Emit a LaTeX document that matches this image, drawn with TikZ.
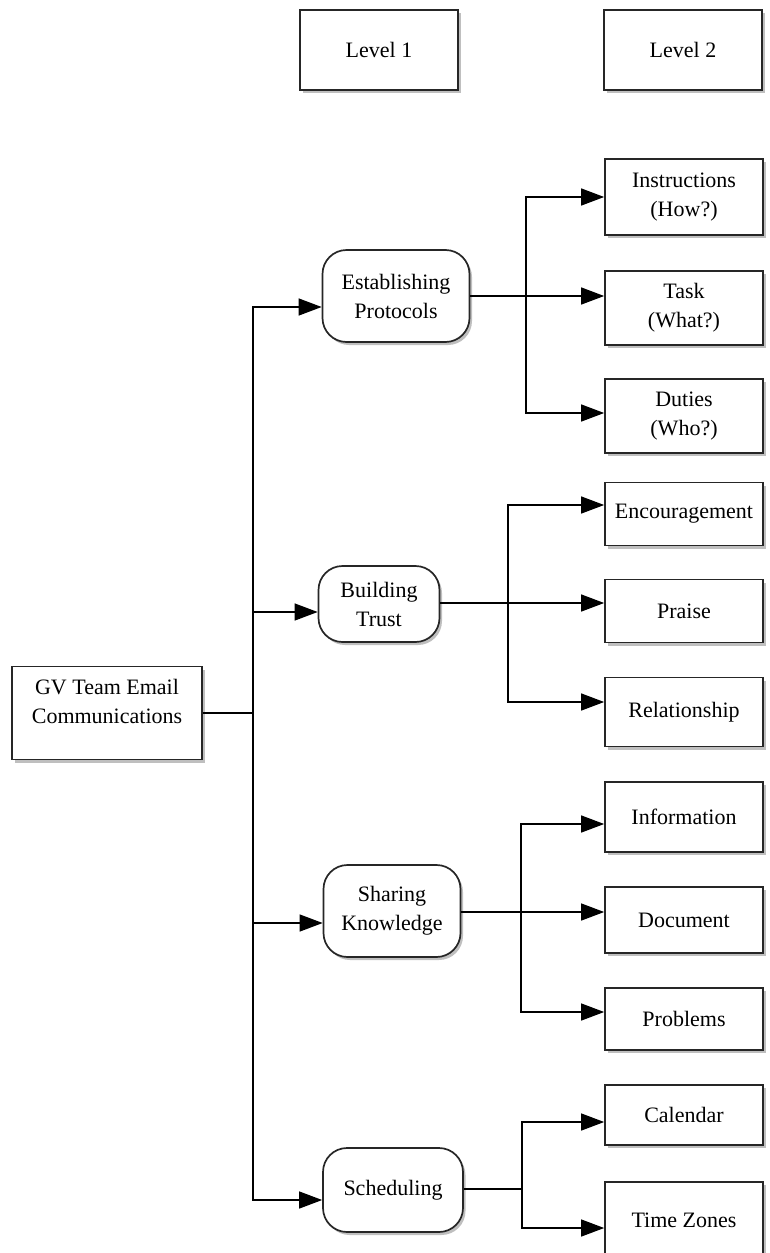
\documentclass[tikz,border=0pt]{standalone}
\usepackage{fontspec}
\setmainfont{Liberation Serif}
\usetikzlibrary{arrows.meta,shadows}
\tikzset{
  box/.style={draw=black!85, line width=1.7pt, fill=white, align=center,
    font=\fontsize{22}{29}\selectfont, inner sep=2pt,
    drop shadow={shadow xshift=2.5pt, shadow yshift=-3pt, opacity=.5}},
  topic/.style={box, rounded corners=24pt},
  item/.style={box, minimum width=158pt},
  link/.style={line width=1.3pt, black},
  arr/.style={link, -{Triangle[length=23pt,width=17pt]}}
}
\begin{document}
\begin{tikzpicture}[x=1pt,y=-1pt]
  \useasboundingbox (0,0) rectangle (769,1253);
  \clip (0,0) rectangle (769,1253);
  % column heads
  \node[item, minimum height=80pt] (lvA) at (379,50) {Level 1};
  \node[item, minimum height=80pt] (lvB) at (683,50) {Level 2};
  % root
  \node[box, minimum width=190pt, minimum height=93pt] (root) at (107,713)
    {GV Team Email\\Communications\\[-14pt]\strut};
  % level 1
  \node[topic, minimum width=147pt, minimum height=92pt] (est) at (396,296) {Establishing\\Protocols};
  \node[topic, minimum width=121pt, minimum height=76pt] (trust) at (379,604) {Building\\Trust};
  \node[topic, minimum width=137pt, minimum height=92pt] (share) at (392,911) {Sharing\\Knowledge};
  \node[topic, minimum width=140pt, minimum height=84pt] (sched) at (393,1190) {Scheduling};
  % level 2
  \node[item, minimum height=76pt] (inst) at (684,197) {Instructions\\(How?)};
  \node[item, minimum height=74pt] (task) at (684,308) {Task\\(What?)};
  \node[item, minimum height=74pt] (duty) at (684,416) {Duties\\(Who?)};
  \node[item, minimum height=63pt] (enc) at (684,514) {Encouragement};
  \node[item, minimum height=63pt] (praise) at (684,611) {Praise};
  \node[item, minimum height=69pt] (rel) at (684,712) {Relationship};
  \node[item, minimum height=70pt] (info) at (684,817) {Information};
  \node[item, minimum height=66pt] (doc) at (684,920) {Document};
  \node[item, minimum height=62pt] (prob) at (684,1019) {Problems};
  \node[item, minimum height=60pt] (cal) at (684,1115) {Calendar};
  \node[item, minimum height=76pt] (tz) at (684,1220) {Time Zones};
  % junctions
  \coordinate (j0) at (253,713);
  \coordinate (j1) at (526,296);
  \coordinate (j2) at (508,603);
  \coordinate (j3) at (521,912);
  \coordinate (j4) at (522,1189);
  \begin{scope}
    \draw[link] (root.east) -- (j0);
    \draw[arr] (j0) |- ([yshift=-11pt]est.west);
    \draw[arr] (j0) |- ([yshift=-8pt]trust.west);
    \draw[arr] (j0) |- ([yshift=-12pt]share.west);
    \draw[arr] (j0) |- ([yshift=-10pt]sched.west);
    \draw[link] (est.east) -- (j1);
    \draw[arr] (j1) |- (inst.west);
    \draw[arr] (j1) -- (task.west |- j1);
    \draw[arr] (j1) |- ([yshift=3pt]duty.west);
    \draw[link] ([yshift=1pt]trust.east) -- (j2);
    \draw[arr] (j2) |- ([yshift=9pt]enc.west);
    \draw[arr] (j2) -- (praise.west |- j2);
    \draw[arr] (j2) |- ([yshift=10pt]rel.west);
    \draw[link] (share.east |- j3) -- (j3);
    \draw[arr] (j3) |- ([yshift=-7pt]info.west);
    \draw[arr] (j3) -- (doc.west |- j3);
    \draw[arr] (j3) |- ([yshift=7pt]prob.west);
    \draw[link] (sched.east |- j4) -- (j4);
    \draw[arr] (j4) |- ([yshift=-7pt]cal.west);
    \draw[arr] (j4) |- ([yshift=-8pt]tz.west);
  \end{scope}
\end{tikzpicture}
\end{document}
